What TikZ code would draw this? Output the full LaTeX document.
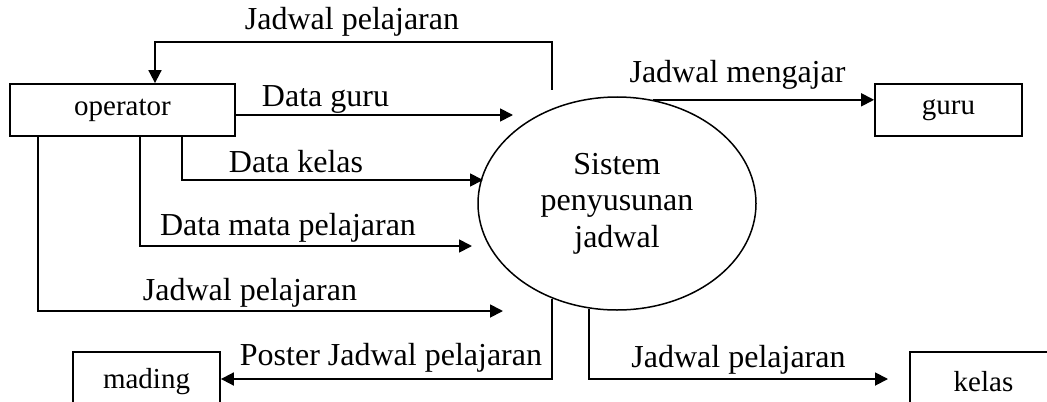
\documentclass[tikz,border=0pt]{standalone}
\usepackage{fontspec}
\setmainfont{Liberation Serif}
\usetikzlibrary{arrows.meta,shapes.geometric}

\begin{document}
\begin{tikzpicture}[
  x=0.5pt, y=-0.5pt,
  line width=0.9pt,
  entity/.style={
    draw,
    rectangle,
    inner sep=0pt,
    minimum width=73.5pt,
    minimum height=26pt,
    font=\fontsize{14.5}{17}\selectfont
  },
  process/.style={
    draw,
    ellipse,
    inner sep=0pt,
    line width=0.75pt,
    minimum width=139pt,
    minimum height=106.5pt,
    align=center,
    font=\fontsize{16}{18.3}\selectfont
  },
  flowlabel/.style={anchor=base, inner sep=0pt, font=\fontsize{16}{19}\selectfont},
  flow/.style={-{Triangle[length=6.5pt, width=6.5pt]}}
]
\useasboundingbox (0,0) rectangle (1047,401);

% entitas luar
\node[entity, minimum width=112.5pt] (operator) at (122.5,110) {operator};
\node[entity] (guru) at (948.5,110) {guru};
\node[entity, minimum height=30pt] (mading) at (146.5,382) {mading};
\node[entity, minimum height=30pt] (kelas) at (983.5,382) {kelas};

% proses
\node[process] (sistem) at (617,203.5) {Sistem\\penyusunan\\jadwal};

% ujung bebas
\coordinate (in-guru) at (513,115);
\coordinate (in-kelas) at (483,180);
\coordinate (in-mapel) at (472,246);
\coordinate (in-jadwal) at (503,311);
\coordinate (out-top) at (552,90);
\coordinate (out-kelas) at (888,379);
\coordinate (out-mading) at (552,379);

% aliran data
\draw[flow] (out-top) -- ++(0,-48) -| ([xshift=16.25pt]operator.north);
\draw[flow] (operator.east |- in-guru) -- (in-guru);
\draw[flow] ([xshift=29.75pt]operator.south) |- (in-kelas);
\draw[flow] ([xshift=8.75pt]operator.south) |- (in-mapel);
\draw[flow] ([xshift=-42.25pt]operator.south) |- (in-jadwal);
\draw[flow] (sistem.236 -| out-mading) -- (out-mading) -- (out-mading -| mading.east);
\draw[flow] (sistem.255) |- (out-kelas);
\draw[flow] (sistem.71) -- (sistem.71 -| guru.west);

% label
\node[flowlabel] (l-top) at (352,30) {Jadwal pelajaran};
\node[flowlabel] (l-guru) at (325.5,106) {Data guru};
\node[flowlabel] (l-kelas) at (296,172.5) {Data kelas};
\node[flowlabel] (l-mapel) at (288,235) {Data mata pelajaran};
\node[flowlabel] (l-jadwal) at (250,300) {Jadwal pelajaran};
\node[flowlabel] (l-poster) at (391,365) {Poster Jadwal pelajaran};
\node[flowlabel] (l-ajar) at (737.5,83) {Jadwal mengajar};
\node[flowlabel] (l-out) at (738.5,367) {Jadwal pelajaran};

\end{tikzpicture}
\end{document}
